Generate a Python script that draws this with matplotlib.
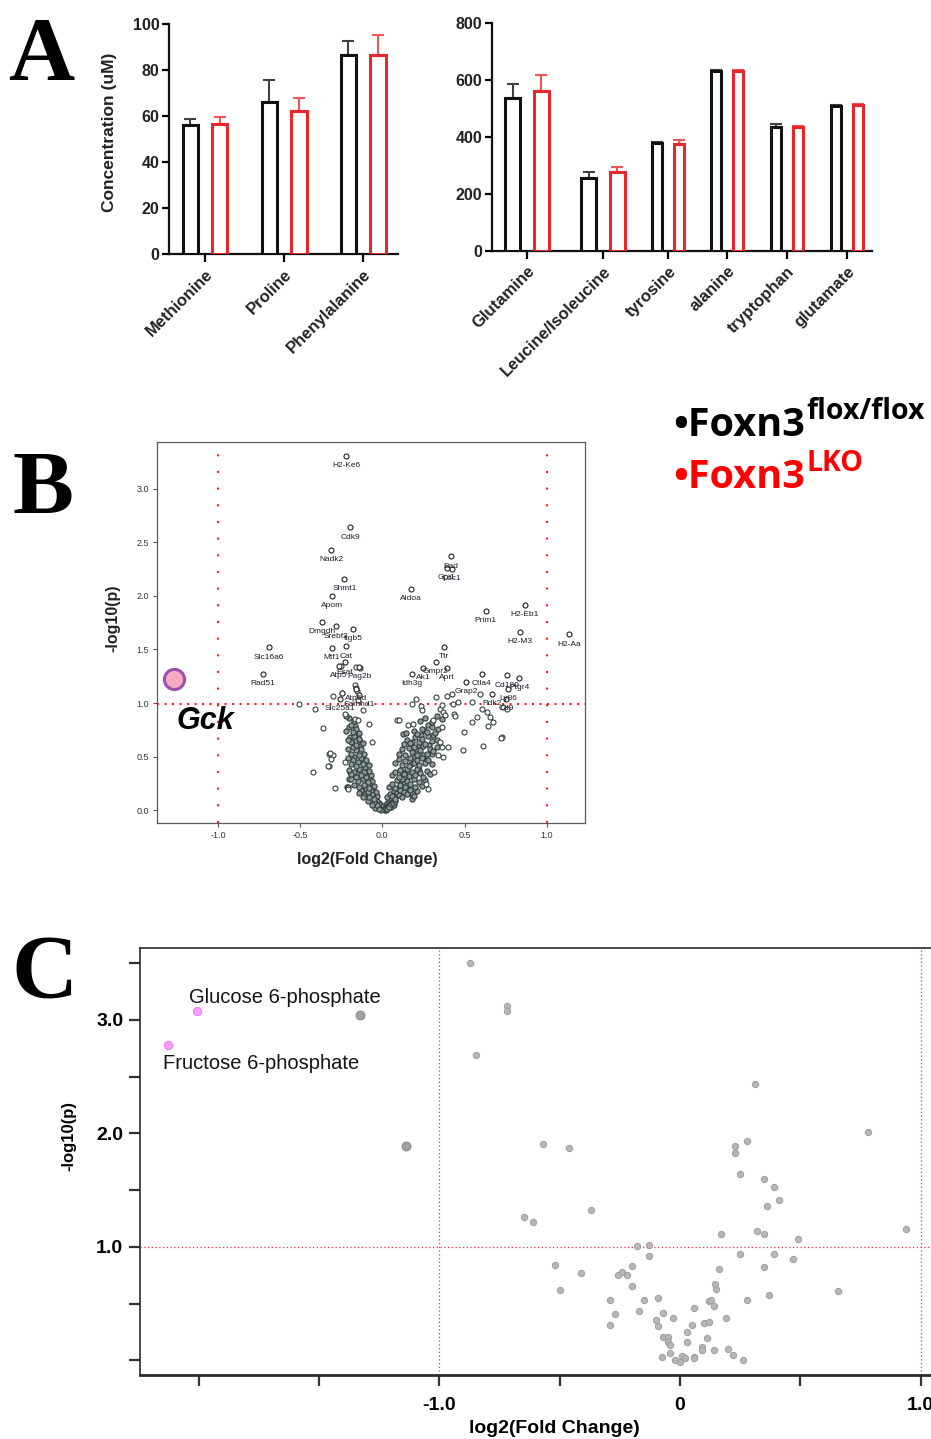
import numpy as np
import matplotlib.pyplot as plt

plt.rcParams['font.family'] = ['Liberation Sans', 'DejaVu Sans']

# ---------------- panel A : amino acids ----------------
amino_left = ['Methionine', 'Proline', 'Phenylalanine']
flox_left = [55.9, 65.9, 86.4]
flox_left_err = [2.7, 9.6, 6.2]
lko_left = [56.7, 62.3, 86.4]
lko_left_err = [2.7, 5.5, 8.8]

amino_right = ['Glutamine', 'Leucine/Isoleucine', 'tyrosine', 'alanine',
               'tryptophan', 'glutamate']
flox_right = [537, 257, 379, 632, 435, 508]
flox_right_err = [49, 21, 5, 2, 10, 5]
lko_right = [560, 276, 377, 632, 435, 513]
lko_right_err = [58, 20, 11, 2, 5, 3]

# ---------------- panel B : volcano (genes) ----------------
b_genes = ['H2-Ke6', 'Cdk9', 'Nadk2', 'Shmt1', 'Apom', 'Aldoa', 'Bad', 'Gpi1',
           'Cdc1', 'Prim1', 'H2-Eb1', 'H2-M3', 'H2-Aa', 'Dmgdh', 'Srebf2',
           'Itgb5', 'Mtf1', 'Cat', 'Slc16a6', 'Rad51', 'Ttr', 'Gmpr2', 'Ak1',
           'Idh3g', 'Aprt', 'Ctla4', 'Grap2', 'Cd180', 'Ptgr4', 'Ly86', 'Pdk2',
           'Cd9', 'Esat', 'Atp5', 'Pag2b', 'Atp5d', 'Samhd1', 'Slc25a1']
b_gene_fc = [-0.221, -0.197, -0.312, -0.231, -0.308, 0.174, 0.417, 0.391,
             0.421, 0.628, 0.865, 0.835, 1.135, -0.367, -0.282,
             -0.180, -0.308, -0.219, -0.689, -0.727, 0.373, 0.324, 0.249,
             0.182, 0.391, 0.604, 0.509, 0.760, 0.833, 0.766, 0.665,
             0.752, -0.227, -0.265, -0.140, -0.160, -0.140, -0.260]
b_gene_p = [3.307, 2.639, 2.428, 2.160, 2.002, 2.067, 2.369, 2.263,
            2.254, 1.862, 1.918, 1.663, 1.641, 1.756, 1.716,
            1.694, 1.517, 1.529, 1.520, 1.274, 1.523, 1.386, 1.325,
            1.274, 1.327, 1.274, 1.197, 1.259, 1.237, 1.135, 1.088,
            1.040, 1.380, 1.345, 1.337, 1.130, 1.080, 1.040]

b_sparse = [
    (-0.509, 0.995), (-0.409, 0.942), (-0.362, 0.768), (-0.227, 0.902),
    (-0.166, 0.855), (-0.146, 0.840), (-0.081, 0.809), (-0.116, 0.939),
    (-0.061, 0.637), (-0.322, 0.528), (-0.298, 0.513), (-0.310, 0.476),
    (-0.326, 0.410), (-0.423, 0.357), (-0.288, 0.212), (-0.206, 0.202),
    (-0.227, 0.451), (-0.160, 1.337), (-0.136, 1.324), (-0.253, 1.349),
    (-0.168, 1.166), (-0.160, 1.138), (-0.156, 1.113), (-0.243, 1.097),
    (-0.146, 1.026), (-0.298, 1.063), (-0.247, 1.094), (-0.318, 0.535),
    (-0.328, 0.410),
    (0.207, 1.038), (0.178, 0.995), (0.233, 0.970), (0.239, 0.933),
    (0.324, 1.057), (0.391, 1.063), (0.421, 1.088), (0.431, 0.995),
    (0.458, 1.010), (0.547, 1.010), (0.351, 0.948), (0.371, 0.917),
    (0.381, 0.886), (0.438, 0.895), (0.442, 0.877), (0.573, 0.870),
    (0.543, 0.824), (0.604, 0.948), (0.634, 0.917), (0.658, 0.870),
    (0.675, 0.824), (0.644, 0.783), (0.498, 0.731), (0.610, 0.603),
    (0.492, 0.566), (0.725, 0.684), (0.735, 0.964), (0.756, 0.948),
    (0.594, 1.088), (0.361, 0.777), (0.719, 0.678), (0.310, 0.839),
    (0.087, 0.839), (0.101, 0.845), (0.154, 0.799), (0.184, 0.802),
    (0.361, 0.979), (0.351, 0.637), (0.365, 0.591), (0.401, 0.591),
    (0.316, 0.357), (0.265, 0.249), (0.280, 0.202), (0.371, 0.497),
    (0.340, 0.513),
]
b_cloud = [
    (-0.196, 0.684), (-0.186, 0.653), (-0.140, 0.653), (-0.216, 0.217),
    (-0.201, 0.296), (-0.196, 0.357), (0.128, 0.715), (0.142, 0.721),
    (0.178, 0.109), (0.178, 0.140), (0.304, 0.528),
    # right arm
    (0.005, 0.01), (0.01, 0.03), (0.015, 0.005), (0.02, 0.05), (0.025, 0.02),
    (0.03, 0.07), (0.035, 0.04), (0.04, 0.09), (0.045, 0.06), (0.05, 0.03),
    (0.055, 0.10), (0.06, 0.08), (0.07, 0.05),
    (0.02, 0.0), (0.03, 0.015), (0.04, 0.035), (0.05, 0.055), (0.065, 0.07),
    (0.075, 0.09), (0.085, 0.13), (0.095, 0.20), (0.105, 0.23), (0.125, 0.26),
    (0.14, 0.30), (0.165, 0.35), (0.175, 0.43), (0.195, 0.50), (0.205, 0.57),
    (0.225, 0.61), (0.235, 0.70), (0.255, 0.75), (0.28, 0.80), (0.18, 0.64),
    (0.31, 0.70), (0.22, 0.38), (0.27, 0.47), (0.12, 0.36), (0.155, 0.20),
    (0.18, 0.16), (0.25, 0.52), (0.285, 0.61),
    (0.03, 0.12), (0.045, 0.15), (0.06, 0.13), (0.07, 0.18), (0.08, 0.11),
    (0.09, 0.16), (0.10, 0.14), (0.11, 0.19), (0.12, 0.12), (0.13, 0.17),
    (0.15, 0.15), (0.17, 0.19), (0.19, 0.13), (0.21, 0.18),
    (0.04, 0.22), (0.06, 0.25), (0.08, 0.21), (0.09, 0.28), (0.11, 0.24),
    (0.12, 0.29), (0.14, 0.22), (0.15, 0.27), (0.17, 0.25), (0.19, 0.29),
    (0.20, 0.22), (0.22, 0.26), (0.24, 0.23), (0.26, 0.28),
    (0.06, 0.33), (0.08, 0.36), (0.10, 0.31), (0.11, 0.38), (0.13, 0.34),
    (0.15, 0.39), (0.16, 0.32), (0.18, 0.36), (0.20, 0.33), (0.21, 0.39),
    (0.23, 0.35), (0.25, 0.31), (0.27, 0.37), (0.29, 0.34),
    (0.08, 0.44), (0.10, 0.48), (0.12, 0.42), (0.14, 0.46), (0.16, 0.41),
    (0.17, 0.49), (0.19, 0.44), (0.21, 0.47), (0.22, 0.42), (0.24, 0.49),
    (0.26, 0.44), (0.28, 0.47), (0.30, 0.43),
    (0.10, 0.53), (0.12, 0.57), (0.14, 0.52), (0.16, 0.58), (0.18, 0.54),
    (0.19, 0.59), (0.21, 0.52), (0.23, 0.56), (0.25, 0.60), (0.27, 0.53),
    (0.29, 0.57), (0.31, 0.55), (0.33, 0.59),
    (0.13, 0.62), (0.15, 0.66), (0.17, 0.63), (0.20, 0.68), (0.22, 0.64),
    (0.24, 0.67), (0.26, 0.62), (0.28, 0.69), (0.30, 0.65), (0.33, 0.66),
    (0.19, 0.74), (0.21, 0.71), (0.24, 0.76), (0.27, 0.73), (0.30, 0.78),
    (0.32, 0.72), (0.34, 0.76),
    (0.23, 0.83), (0.26, 0.86), (0.30, 0.82), (0.33, 0.88), (0.36, 0.85),
    # left arm
    (-0.005, 0.02), (-0.01, 0.05), (-0.015, 0.01), (-0.02, 0.07),
    (-0.025, 0.03), (-0.03, 0.09), (-0.04, 0.06), (-0.045, 0.02),
    (-0.01, 0.0), (-0.02, 0.015), (-0.035, 0.05), (-0.05, 0.08),
    (-0.055, 0.19), (-0.065, 0.22), (-0.075, 0.29), (-0.095, 0.35),
    (-0.105, 0.40), (-0.115, 0.46), (-0.125, 0.51), (-0.135, 0.60),
    (-0.15, 0.70), (-0.165, 0.79), (-0.175, 0.50), (-0.155, 0.35),
    (-0.10, 0.20), (-0.085, 0.09), (-0.065, 0.05),
    (-0.03, 0.13), (-0.04, 0.17), (-0.05, 0.11), (-0.06, 0.15),
    (-0.07, 0.19), (-0.08, 0.12), (-0.09, 0.17), (-0.11, 0.14),
    (-0.13, 0.19), (-0.12, 0.12), (-0.14, 0.16),
    (-0.05, 0.23), (-0.06, 0.27), (-0.08, 0.21), (-0.09, 0.26),
    (-0.11, 0.24), (-0.12, 0.29), (-0.14, 0.22), (-0.15, 0.27),
    (-0.17, 0.24), (-0.19, 0.29), (-0.21, 0.22),
    (-0.07, 0.33), (-0.08, 0.37), (-0.10, 0.31), (-0.11, 0.36),
    (-0.13, 0.33), (-0.14, 0.39), (-0.16, 0.31), (-0.17, 0.36),
    (-0.19, 0.34), (-0.20, 0.38),
    (-0.08, 0.42), (-0.10, 0.47), (-0.12, 0.43), (-0.13, 0.49),
    (-0.15, 0.45), (-0.16, 0.41), (-0.18, 0.47), (-0.19, 0.43), (-0.21, 0.49),
    (-0.11, 0.53), (-0.13, 0.57), (-0.14, 0.52), (-0.16, 0.56),
    (-0.18, 0.59), (-0.19, 0.53), (-0.21, 0.57),
    (-0.12, 0.63), (-0.14, 0.67), (-0.16, 0.61), (-0.17, 0.69),
    (-0.19, 0.64), (-0.21, 0.66),
    (-0.14, 0.72), (-0.16, 0.76), (-0.18, 0.73), (-0.20, 0.78),
    (-0.22, 0.74), (-0.19, 0.80),
    (-0.17, 0.83), (-0.20, 0.86), (-0.22, 0.88),
]
gck_fc, gck_p = -1.27, 1.222

# ---------------- panel C : volcano (metabolites) ----------------
c_named = ['Glucose 6-phosphate', 'Fructose 6-phosphate']
c_named_fc = [-2.01, -2.13]
c_named_p = [3.08, 2.78]
c_big_fc = [-1.33, -1.14]
c_big_p = [3.04, 1.89]
c_other = [
    (-0.875, 3.50), (-0.72, 3.12), (-0.72, 3.08), (-0.85, 2.69),
    (-0.57, 1.91), (-0.46, 1.87), (-0.37, 1.33), (-0.65, 1.26), (-0.61, 1.22),
    (0.31, 2.44), (0.78, 2.01), (0.28, 1.93), (0.23, 1.89), (0.23, 1.83),
    (0.25, 1.64), (0.35, 1.60), (0.39, 1.53), (0.41, 1.41), (0.36, 1.36),
    (0.94, 1.16), (0.17, 1.11), (0.32, 1.14), (0.35, 1.11), (0.49, 1.07),
    (-0.18, 1.01), (-0.13, 1.02), (-0.13, 0.92), (0.25, 0.94), (0.39, 0.94),
    (0.47, 0.89), (0.35, 0.82), (0.16, 0.81), (-0.52, 0.84), (-0.20, 0.83),
    (-0.41, 0.77), (-0.26, 0.75), (-0.24, 0.78), (-0.22, 0.75), (-0.20, 0.66),
    (0.145, 0.67), (0.15, 0.63), (0.655, 0.61), (-0.50, 0.62), (0.37, 0.58),
    (-0.29, 0.53), (-0.15, 0.53), (-0.09, 0.55), (0.28, 0.53), (0.12, 0.52),
    (0.13, 0.53), (0.14, 0.48), (0.06, 0.46), (-0.27, 0.41), (-0.17, 0.44),
    (-0.07, 0.42), (-0.03, 0.37), (-0.10, 0.36), (0.19, 0.37), (-0.29, 0.31),
    (-0.09, 0.30), (0.05, 0.31), (0.10, 0.33), (0.12, 0.34), (-0.07, 0.21),
    (-0.05, 0.21), (-0.05, 0.16), (-0.04, 0.14), (0.03, 0.25), (0.03, 0.16),
    (0.11, 0.20), (0.09, 0.12), (0.09, 0.09), (0.14, 0.09), (0.20, 0.10),
    (0.22, 0.05), (0.26, 0.005), (-0.075, 0.03), (-0.04, 0.07), (-0.02, 0.005),
    (0.0, -0.01), (0.01, 0.04), (0.02, 0.025), (0.06, 0.03), (0.06, 0.02),
]

# ---------------- figure ----------------
W, H = 931, 1439
fig = plt.figure(figsize=(W / 100, H / 100), dpi=100)


def px_axes(x0, y0, x1, y1):
    return fig.add_axes([x0 / W, 1 - y1 / H, (x1 - x0) / W, (y1 - y0) / H])


BLACK = '#111111'
RED = '#e8262b'


def bar_panel(ax, names, centers, off, width, flox, flox_err, lko, lko_err):
    c = np.array(centers)
    off = np.array(off)
    n = len(names)
    ax.bar(c - off, flox, width, facecolor='white', edgecolor=BLACK,
           linewidth=2.2, zorder=3)
    ax.bar(c + off, lko, width, facecolor='white', edgecolor=RED,
           linewidth=2.2, zorder=3)
    ax.errorbar(c - off, flox, yerr=[np.zeros(n), flox_err], fmt='none',
                ecolor='#404040', elinewidth=1.5, capsize=4, capthick=1.5,
                zorder=2)
    ax.errorbar(c + off, lko, yerr=[np.zeros(n), lko_err], fmt='none',
                ecolor='#ee5555', elinewidth=1.5, capsize=4, capthick=1.5,
                zorder=2)
    for s in ['top', 'right']:
        ax.spines[s].set_visible(False)
    for s in ['left', 'bottom']:
        ax.spines[s].set_linewidth(1.6)
        ax.spines[s].set_color(BLACK)
    ax.set_xticks(c)
    ax.set_xticklabels(names, rotation=45, ha='right', rotation_mode='anchor',
                       fontsize=12, fontweight='bold', color='#222222')
    ax.tick_params(axis='x', length=6, width=1.6, pad=3)
    ax.tick_params(axis='y', length=5, width=1.6, pad=2, labelsize=11.5)


# A left
axA1 = px_axes(169, 24, 398, 254)
bar_panel(axA1, amino_left, [0, 1, 2], [0.186] * 3, [0.195] * 3,
          flox_left, flox_left_err, lko_left, lko_left_err)
axA1.set_xlim(-0.456, 2.44)
axA1.set_ylim(0, 100)
axA1.set_yticks([0, 20, 40, 60, 80, 100])
axA1.set_ylabel('Concentration (uM)', fontsize=12.5, fontweight='bold',
                color='#222222')
axA1.yaxis.set_label_coords(-0.225, 0.53)

# A right
axA2 = px_axes(492, 23, 872, 251)
bar_panel(axA2, amino_right, [0, 1, 1.86, 2.63, 3.42, 4.21],
          [0.19, 0.19, 0.145, 0.145, 0.145, 0.145],
          [0.2, 0.2, 0.128, 0.128, 0.128, 0.128],
          flox_right, flox_right_err, lko_right, lko_right_err)
axA2.set_xlim(-0.46, 4.54)
axA2.set_ylim(0, 800)
axA2.set_yticks([0, 200, 400, 600, 800])

for axx in (axA1, axA2):
    for t in axx.get_yticklabels():
        t.set_fontweight('bold')
        t.set_color('#222222')

# B
axB = px_axes(157, 442, 585, 823)
sx, sy = np.array(b_sparse).T
cx_b, cy_b = np.array(b_cloud).T
axB.scatter(cx_b, cy_b, s=14, facecolor='#8f9b9b', edgecolor='#2f3b3a',
            linewidth=0.8, zorder=3)
axB.scatter(sx, sy, s=13, facecolor='white', edgecolor='#34403f',
            linewidth=0.8, zorder=3)
axB.scatter(b_gene_fc, b_gene_p, s=13, facecolor='white', edgecolor='#222222',
            linewidth=0.8, zorder=3)
for g, gx, gy in zip(b_genes, b_gene_fc, b_gene_p):
    axB.annotate(g, (gx, gy), xytext=(0, -7), textcoords='offset points',
                 ha='center', va='center', fontsize=6, color='#1c1c28',
                 zorder=4)
axB.axvline(-1, color='#ff1f1f', lw=1.5, ls=(0, (1, 7)), zorder=2)
axB.axvline(1, color='#ff1f1f', lw=1.5, ls=(0, (1, 7)), zorder=2)
axB.axhline(0.995, color='#ff1f1f', lw=1.5, ls=(0, (1, 2.6)), zorder=2)
axB.scatter([gck_fc], [gck_p], s=210, facecolor='#f7a8c4', edgecolor='#9b4fb0',
            linewidth=2.2, zorder=5)
axB.text(-1.25, 0.756, 'Gck', fontsize=22, fontweight='bold', style='italic',
         ha='left', va='baseline', zorder=5)
axB.set_xlim(-1.371, 1.233)
axB.set_ylim(-0.118, 3.435)
axB.set_xticks([-1, -0.5, 0, 0.5, 1])
axB.set_xticklabels(['-1.0', '-0.5', '0.0', '0.5', '1.0'])
axB.set_yticks([0, 0.5, 1, 1.5, 2, 2.5, 3])
axB.set_yticklabels(['0.0', '0.5', '1.0', '1.5', '2.0', '2.5', '3.0'])
axB.tick_params(length=3, width=0.8, color='#555555', labelsize=6.5,
                labelcolor='#333333', pad=3)
for s in axB.spines.values():
    s.set_linewidth(0.9)
    s.set_color('#5a5a5a')
axB.set_xlabel('log2(Fold Change)', fontsize=11.5, fontweight='bold',
               color='#222222')
axB.xaxis.set_label_coords(0.491, -0.075)
axB.set_ylabel('-log10(p)', fontsize=11.5, fontweight='bold', color='#222222')
axB.yaxis.set_label_coords(-0.085, 0.537)

# C
axC = px_axes(140, 948, 936, 1375)
ox, oy = np.array(c_other).T
axC.axvline(-1, color='#ff2a3a', lw=0.9, ls=(0, (1, 2)), zorder=1)
axC.axvline(1, color='#ff2a3a', lw=0.9, ls=(0, (1, 2)), zorder=1)
axC.axhline(1, color='#ff2a3a', lw=0.9, ls=(0, (1, 2)), zorder=1)
axC.scatter(ox, oy, s=20, facecolor='#b8b8b8', edgecolor='#a0a0a0',
            linewidth=0.8, zorder=3)
axC.scatter(c_big_fc, c_big_p, s=40, facecolor='#a2a2a2', edgecolor='#8c8c8c',
            linewidth=0.8, zorder=3)
axC.scatter(c_named_fc, c_named_p, s=34, facecolor='#ff9cff',
            edgecolor='#f07cf0', linewidth=0.8, zorder=4)
axC.text(-2.04, 3.20, c_named[0], fontsize=14.5, ha='left', va='center',
         color='#141414')
axC.text(-2.15, 2.62, c_named[1], fontsize=14.5, ha='left', va='center',
         color='#141414')
axC.set_xlim(-2.245, 1.064)
axC.set_ylim(-0.128, 3.634)
axC.set_xticks([-2, -1.5, -1, -0.5, 0, 0.5, 1])
axC.set_xticklabels(['', '', '-1.0', '', '0', '', '1.0'])
axC.set_yticks([0, 0.5, 1, 1.5, 2, 2.5, 3, 3.5])
axC.set_yticklabels(['', '', '1.0', '', '2.0', '', '3.0', ''])
axC.tick_params(length=8, width=1.6, color='#333333', labelsize=14, pad=4)
axC.tick_params(axis='x', pad=8)
for t in axC.get_xticklabels() + axC.get_yticklabels():
    t.set_fontweight('bold')
axC.spines['right'].set_visible(False)
axC.spines['top'].set_linewidth(1.2)
axC.spines['left'].set_linewidth(1.2)
axC.spines['bottom'].set_linewidth(2.0)
for s in axC.spines.values():
    s.set_color('#2a2a2a')
axC.set_xlabel('log2(Fold Change)', fontsize=14, fontweight='bold')
axC.xaxis.set_label_coords(0.52, -0.105)
axC.set_ylabel('-log10(p)', fontsize=12, fontweight='bold')
axC.yaxis.set_label_coords(-0.08, 0.56)

# panel letters
for letter, lx, ly in [('A', 8, 80), ('B', 13, 514), ('C', 12, 998)]:
    fig.text(lx / W, 1 - ly / H, letter, fontsize=66, fontweight='bold',
             family='Liberation Serif', va='baseline', ha='left')

# genotype legend
fig.canvas.draw()
rend = fig.canvas.get_renderer()
for main, sup, col, base_y, sup_y in [('\u2022Foxn3', 'flox/flox', 'black', 436, 419),
                                      ('\u2022Foxn3', 'LKO', '#ff0000', 488, 471)]:
    t = fig.text(673 / W, 1 - base_y / H, main, fontsize=28.5, fontweight='bold',
                 family='Open Sans', color=col, va='baseline', ha='left')
    bb = t.get_window_extent(renderer=rend)
    fig.text(bb.x1 / W + 0.002, 1 - sup_y / H, sup, fontsize=20.5,
             fontweight='bold', family='Open Sans', color=col,
             va='baseline', ha='left')

fig.savefig('out.png', dpi=100)
